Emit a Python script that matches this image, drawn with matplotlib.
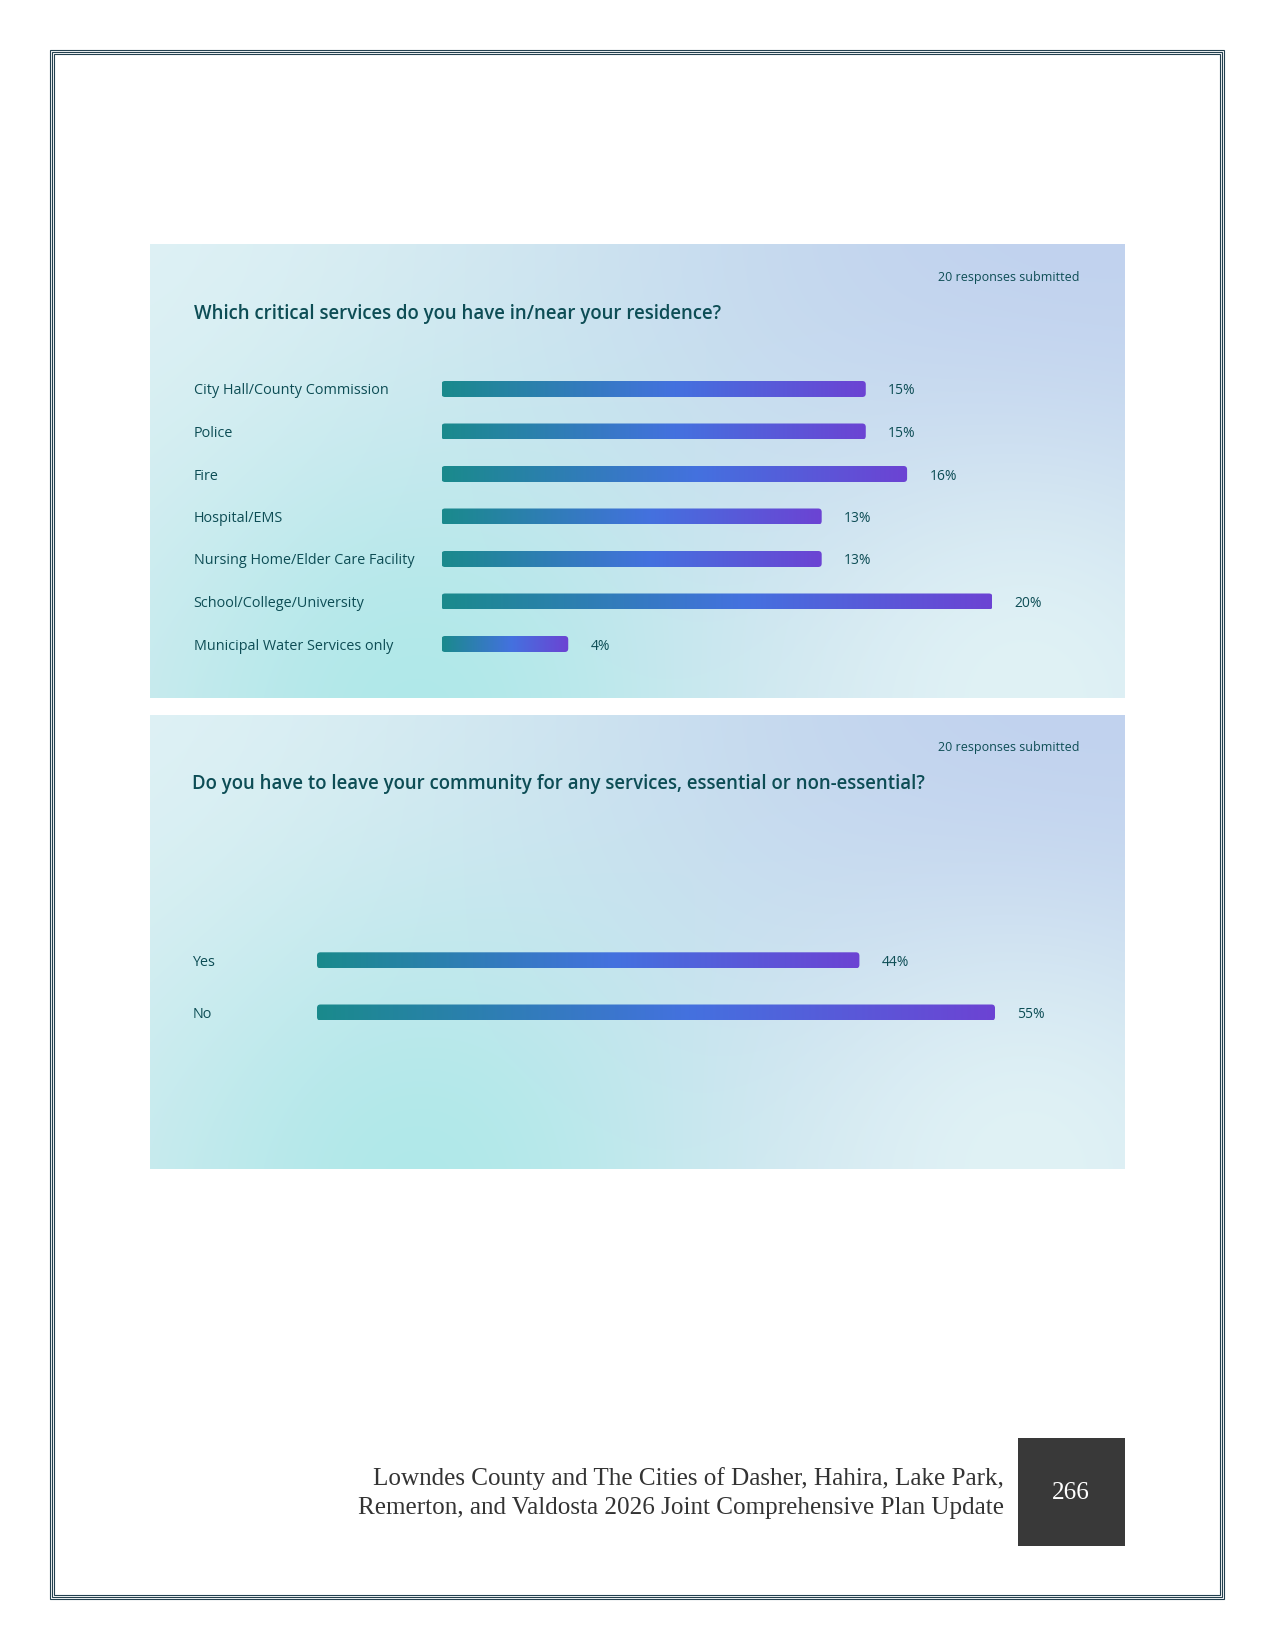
import numpy as np
import matplotlib
matplotlib.use("Agg")
import matplotlib.pyplot as plt
from matplotlib.colors import LinearSegmentedColormap, to_rgb
from matplotlib.patches import Rectangle, FancyBboxPatch
from matplotlib.transforms import blended_transform_factory

W, H = 1275, 1650

# --- data ---
q1_title = "Which critical services do you have in/near your residence?"
q1_labels = ["City Hall/County Commission", "Police", "Fire", "Hospital/EMS",
             "Nursing Home/Elder Care Facility", "School/College/University",
             "Municipal Water Services only"]
q1_values = [15.4, 15.4, 16.9, 13.8, 13.8, 20.0, 4.6]

q2_title = "Do you have to leave your community for any services, essential or non-essential?"
q2_labels = ["Yes", "No"]
q2_values = [44, 55]

responses = "20 responses submitted"
footer_lines = ["Lowndes County and The Cities of Dasher, Hahira, Lake Park,",
                "Remerton, and Valdosta 2026 Joint Comprehensive Plan Update"]
page_no = "266"

TXT = "#0d4d55"
bar_cmap = LinearSegmentedColormap.from_list(
    "bar", [(0, "#1a8a8c"), (0.55, "#4471df"), (1, "#6c43d3")])

plt.rcParams["font.family"] = ["Open Sans", "DejaVu Sans"]

fig = plt.figure(figsize=(W / 100, H / 100), dpi=100)
page = fig.add_axes([0, 0, 1, 1])
page.set_xlim(0, W)
page.set_ylim(H, 0)
page.axis("off")


def px_axes(l, t, w, h):
    return fig.add_axes([l / W, 1 - (t + h) / H, w / W, h / H])


# triple page border
for off in (0, 2, 4):
    page.add_patch(Rectangle((50.3 + off, 50.3 + off), 1174 - 2 * off, 1548.4 - 2 * off,
                             fill=False, ec="#23404f", lw=0.8))


def panel_bg(x0, y0, x1, y1):
    ny, nx = 150, 320
    u, v = np.meshgrid(np.linspace(0, 1, nx), np.linspace(0, 1, ny))
    asp = (x1 - x0) / (y1 - y0)
    img = np.ones((ny, nx, 3)) * np.array(to_rgb("#d4ebf0"))
    blobs = [(0.0, 0.0, 0.9, "#e0f2f5"),
             (0.95, 0.1, 1.1, "#bfd0ee"),
             (0.28, 1.05, 0.65, "#b0e8e9"),
             (0.9, 1.0, 0.6, "#e0f2f5")]
    for bx, by, r, c in blobs:
        d2 = ((u - bx) * asp) ** 2 + (v - by) ** 2
        w = np.exp(-d2 / r ** 2)[..., None]
        img = img * (1 - w) + np.array(to_rgb(c)) * w
    page.imshow(img, extent=(x0, x1, y1, y0), aspect="auto", zorder=0,
                interpolation="bilinear")


def hbars(ax, values, labels, xmax, width_px, row_px, label_x):
    ax.set_xlim(0, xmax)
    ax.set_ylim(len(values) - 0.5, -0.5)
    ax.axis("off")
    ppx = width_px / xmax
    h = 16 / row_px
    r = 3.5
    grad = np.linspace(0, 1, 256).reshape(1, -1)
    tr = blended_transform_factory(page.transData, ax.transData)
    for i, (v, lab) in enumerate(zip(values, labels)):
        patch = FancyBboxPatch((0, i - h / 2), v, h,
                               boxstyle=f"round,pad=0,rounding_size={r / ppx}",
                               mutation_aspect=ppx / row_px, fc="none", ec="none")
        ax.add_patch(patch)
        im = ax.imshow(grad, cmap=bar_cmap, extent=(0, v, i + h / 2, i - h / 2),
                       aspect="auto", interpolation="bilinear")
        im.set_clip_path(patch)
        ax.annotate(f"{int(v)}%", xy=(v, i), xytext=(16, 0), textcoords="offset points",
                    va="center_baseline", ha="left", fontsize=10, color=TXT,
                    annotation_clip=False)
        ax.text(label_x, i, lab, transform=tr, va="center_baseline", ha="left",
                fontsize=10.4, color=TXT, clip_on=False)
    ax.set_xlim(0, xmax)
    ax.set_ylim(len(values) - 0.5, -0.5)


# panel 1
panel_bg(150.4, 245, 1124.6, 698.5)
page.text(1079.5, 277, responses, ha="right", va="center", fontsize=9.0, color=TXT,
          fontweight="medium")
page.text(193.6, 313.5, q1_title, ha="left", va="center", fontsize=13.4,
          color=TXT, fontweight="semibold")
ax1 = px_axes(441.5, 389 - 21.25, 551, 7 * 42.5)
hbars(ax1, q1_values, q1_labels, 20, 551, 42.5, 193.6)

# panel 2
panel_bg(150.4, 715, 1124.6, 1169)
page.text(1079.5, 747, responses, ha="right", va="center", fontsize=9.0, color=TXT,
          fontweight="medium")
page.text(192.5, 783.5, q2_title, ha="left", va="center", fontsize=13.4,
          color=TXT, fontweight="semibold")
ax2 = px_axes(317, 960.2 - 26, 678, 2 * 52.2)
hbars(ax2, q2_values, q2_labels, 55, 678, 52.2, 192.5)

# footer
page.text(1004, 1479, footer_lines[0], ha="right", va="center", fontsize=18.1,
          family="Liberation Serif", color="#333333")
page.text(1004, 1508, footer_lines[1], ha="right", va="center", fontsize=18.1,
          family="Liberation Serif", color="#333333")
page.add_patch(Rectangle((1017.8, 1438.3), 106.9, 107.7, fc="#393939", ec="none"))
page.text(1071, 1493, page_no, ha="center", va="center", fontsize=18.1,
          family="Liberation Serif", color="white")

fig.savefig("out.png", dpi=100)
